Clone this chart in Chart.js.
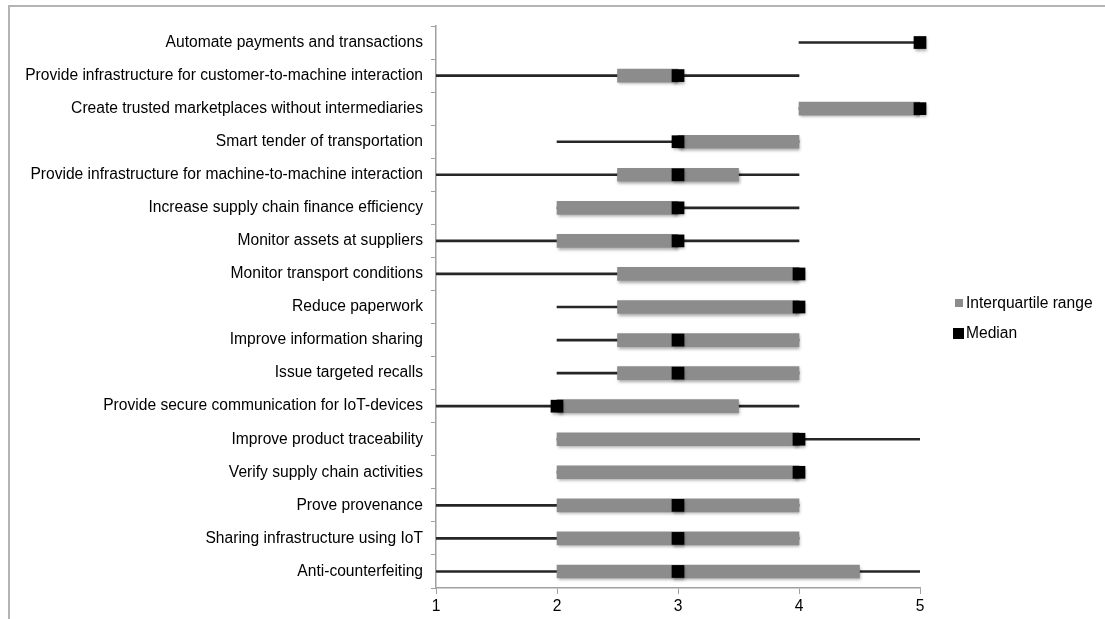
<!DOCTYPE html>
<html>
<head>
<meta charset="utf-8">
<script src="https://cdn.jsdelivr.net/npm/chart.js@4"></script>
<style>
  html, body { margin: 0; padding: 0; background: #fff; }
  #wrap { position: relative; width: 1105px; height: 619px; overflow: hidden; font-family: "Liberation Sans", Arial, sans-serif; }
  #frame { position: absolute; left: 8px; top: 5px; width: 1200px; height: 700px; border-top: 2px solid #b4b4b4; border-left: 2px solid #b4b4b4; }
  #legend { position: absolute; left: 953px; top: 288px; font-size: 15.6px; color: #000; }
  #legend div { display: flex; align-items: center; height: 30px; }
  #legend span.box { display: inline-block; margin-right: 2px; }
</style>
</head>
<body>
<div id="wrap">
  <canvas id="chart" width="1105" height="619"></canvas>
  <div id="frame"></div>
  <div id="legend"></div>
</div>
<script>
const categories = [
  "Automate payments and transactions",
  "Provide infrastructure for customer-to-machine interaction",
  "Create trusted marketplaces without intermediaries",
  "Smart tender of transportation",
  "Provide infrastructure for machine-to-machine interaction",
  "Increase supply chain finance efficiency",
  "Monitor assets at suppliers",
  "Monitor transport conditions",
  "Reduce paperwork",
  "Improve information sharing",
  "Issue targeted recalls",
  "Provide secure communication for IoT-devices",
  "Improve product traceability",
  "Verify supply chain activities",
  "Prove provenance",
  "Sharing infrastructure using IoT",
  "Anti-counterfeiting"
];
const minValues    = [4, 1, 4, 2, 1, 2, 1, 1, 2, 2, 2, 1, 2, 2, 1, 1, 1];
const maxValues    = [5, 4, 5, 4, 4, 4, 4, 4, 4, 4, 4, 4, 5, 4, 4, 4, 5];
const q1Values     = [5, 2.5, 4, 3, 2.5, 2, 2, 2.5, 2.5, 2.5, 2.5, 2, 2, 2, 2, 2, 2];
const q3Values     = [5, 3, 5, 4, 3.5, 3, 3, 4, 4, 4, 4, 3.5, 4, 4, 4, 4, 4.5];
const medianValues = [5, 3, 5, 3, 3, 3, 3, 4, 4, 3, 3, 2, 4, 4, 3, 3, 3];
const xTicks = [1, 2, 3, 4, 5];

const iqrColor = "#8c8c8c";
const medianColor = "#000000";
const labelFont = { family: "'Liberation Sans', Arial, sans-serif", size: 15.6 };

// soft drop shadow under the boxes and median squares
const shadowPlugin = {
  id: "shadow",
  beforeDatasetDraw(chart, args) {
    const ds = chart.data.datasets[args.index];
    chart.ctx.save();
    if (ds.shadow) {
      chart.ctx.shadowColor = "rgba(0,0,0,0.35)";
      chart.ctx.shadowBlur = 3;
      chart.ctx.shadowOffsetX = 1;
      chart.ctx.shadowOffsetY = 2;
    }
  },
  afterDatasetDraw(chart) {
    chart.ctx.restore();
  }
};

const ctx = document.getElementById("chart").getContext("2d");
const chart = new Chart(ctx, {
  type: "bar",
  data: {
    labels: categories,
    datasets: [
      {
        label: "Range",
        data: minValues.map((v, i) => [v, maxValues[i]]),
        backgroundColor: "#262626",
        barThickness: 2,
        order: 2
      },
      {
        label: "Interquartile range",
        data: q1Values.map((v, i) => [v, q3Values[i]]),
        backgroundColor: iqrColor,
        barThickness: 13,
        shadow: true,
        order: 1
      },
      {
        type: "line",
        label: "Median",
        data: medianValues,
        showLine: false,
        pointStyle: "rect",
        pointRadius: 9,
        pointBorderWidth: 0,
        pointBackgroundColor: medianColor,
        shadow: true,
        clip: false,
        order: 0
      }
    ]
  },
  options: {
    indexAxis: "y",
    responsive: false,
    animation: false,
    events: [],
    grouped: false,
    layout: { padding: { top: 26, right: 185, bottom: 0, left: 0 } },
    plugins: {
      legend: { display: false },
      tooltip: { enabled: false }
    },
    scales: {
      y: {
        offset: true,
        afterFit(scale) { scale.width = 436; },
        grid: { drawOnChartArea: false, drawTicks: true, tickLength: 5, color: "#a0a0a0", offset: true },
        border: { color: "#a0a0a0", width: 1.5 },
        ticks: { color: "#000", padding: 8, font: labelFont }
      },
      x: {
        min: 1,
        max: 5,
        afterFit(scale) { scale.height = 31; },
        afterBuildTicks(scale) { scale.ticks = xTicks.map(v => ({ value: v })); },
        grid: { drawOnChartArea: false, drawTicks: true, tickLength: 6, color: "#a0a0a0" },
        border: { color: "#a0a0a0", width: 1.5 },
        ticks: { color: "#000", padding: 3, font: labelFont }
      }
    }
  },
  plugins: [shadowPlugin]
});

// legend from the box and median datasets
const legend = document.getElementById("legend");
[[chart.data.datasets[1], 8], [chart.data.datasets[2], 11]].forEach(([ds, size]) => {
  const row = document.createElement("div");
  const box = document.createElement("span");
  box.className = "box";
  box.style.width = size + "px";
  box.style.height = size + "px";
  box.style.marginLeft = (11 - size) / 2 + "px";
  box.style.marginRight = (2 + (11 - size) / 2) + "px";
  box.style.background = ds.backgroundColor || ds.pointBackgroundColor;
  row.appendChild(box);
  row.appendChild(document.createTextNode(ds.label));
  legend.appendChild(row);
});
</script>
</body>
</html>
